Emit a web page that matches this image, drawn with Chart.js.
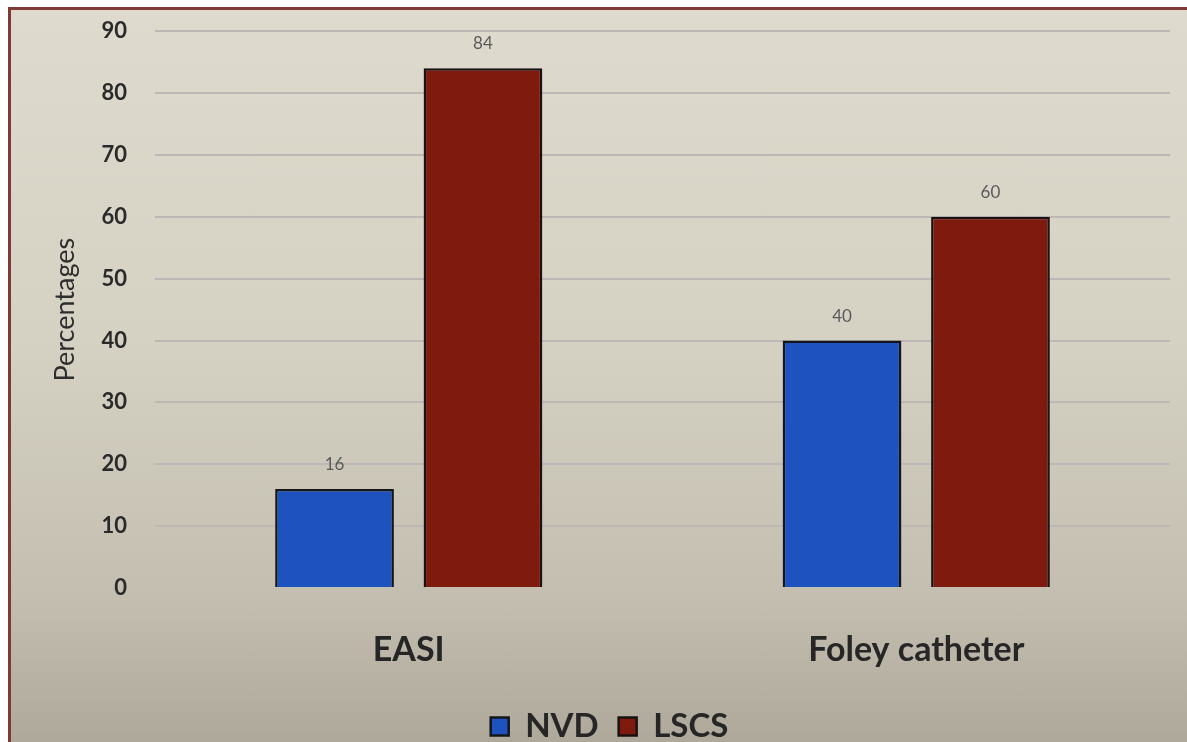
<!DOCTYPE html>
<html>
<head>
<meta charset="utf-8">
<script src="https://cdn.jsdelivr.net/npm/chart.js@4"></script>
<style>
    html, body { margin: 0; padding: 0; background: #ffffff; overflow: hidden; }
    .frame {
        position: absolute;
        left: 8px; top: 7px;
        width: 1179px; height: 735px;
        overflow: hidden;
        border-left: 3px solid #7d3a36;
        border-top: 3px solid #7d3a36;
        background: linear-gradient(180deg, #dedacd 0%, #d5d1c3 45%, #c3beb0 80%, #ada899 100%);
    }
    /* canvas starts a little above the frame so the 90 line sits close to the top edge */
    .frame canvas { display: block; margin-top: -20px; }
</style>
</head>
<body>
<div class="frame">
    <canvas id="chart" width="1176" height="763"></canvas>
</div>
<script>
// categories and series
const categories = ['EASI', 'Foley catheter'];
const nvdValues = [16, 40];
const lscsValues = [84, 60];
const yTicks = [0, 10, 20, 30, 40, 50, 60, 70, 80, 90];

const FONT = 'Lato, "Open Sans", sans-serif';

// value labels above each bar
const barValueLabels = {
    id: 'barValueLabels',
    afterDatasetsDraw(chart) {
        const ctx = chart.ctx;
        ctx.save();
        ctx.font = '17px ' + FONT;
        ctx.fillStyle = '#5a5a5a';
        ctx.textAlign = 'center';
        ctx.textBaseline = 'bottom';
        chart.data.datasets.forEach((ds, i) => {
            chart.getDatasetMeta(i).data.forEach((bar, j) => {
                ctx.fillText(ds.data[j], bar.x, bar.y - 16);
            });
        });
        ctx.restore();
    }
};

new Chart(document.getElementById('chart'), {
    type: 'bar',
    data: {
        labels: categories,
        datasets: [
            {
                label: 'NVD',
                data: nvdValues,
                backgroundColor: '#1d52bf',
                borderColor: '#14161c',
                borderWidth: 2.5
            },
            {
                label: 'LSCS',
                data: lscsValues,
                backgroundColor: '#7f1a0f',
                borderColor: '#1a1212',
                borderWidth: 2.5
            }
        ]
    },
    options: {
        responsive: false,
        animation: false,
        layout: { padding: { top: 0, right: 17, bottom: 0, left: 38 } },
        datasets: {
            bar: { categoryPercentage: 0.585, barPercentage: 0.8 }
        },
        scales: {
            x: {
                grid: { display: false },
                border: { display: false },
                ticks: {
                    padding: 34,
                    color: '#262626',
                    font: { family: FONT, size: 34, weight: 'bold' }
                },
                afterFit: axis => { axis.height = 102; }
            },
            y: {
                min: 0,
                max: 90,
                afterBuildTicks: axis => { axis.ticks = yTicks.map(v => ({ value: v })); },
                grid: {
                    color: ctx => ctx.tick && ctx.tick.value === 0 ? 'rgba(0,0,0,0)' : '#bdb7b6',
                    lineWidth: 2,
                    drawTicks: false
                },
                border: { display: false },
                ticks: {
                    padding: 28,
                    color: '#2a2a2a',
                    font: { family: FONT, size: 22, weight: 'bold' }
                },
                title: {
                    display: true,
                    text: 'Percentages',
                    color: '#2e2e2e',
                    padding: 0,
                    font: { family: FONT, size: 27 }
                },
                afterFit: axis => { axis.width = 106; }
            }
        },
        plugins: {
            legend: {
                position: 'bottom',
                labels: {
                    boxWidth: 18,
                    boxHeight: 18,
                    padding: 20,
                    color: '#262626',
                    font: { family: FONT, size: 33, weight: 'bold' }
                }
            },
            tooltip: { enabled: false }
        }
    },
    plugins: [barValueLabels]
});
</script>
</body>
</html>
